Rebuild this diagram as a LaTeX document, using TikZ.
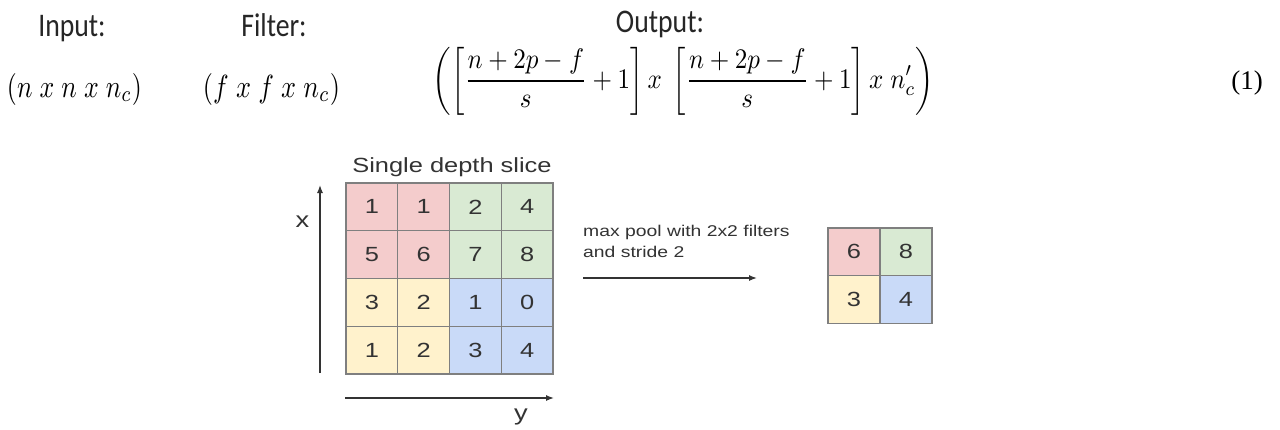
\documentclass[tikz,border=0pt]{standalone}
\usepackage{amsmath}
\usepackage{fontspec}
\usepackage{xcolor}
\usepackage{tikz}
\usetikzlibrary{arrows.meta}
\setmainfont{Liberation Serif}
\newfontfamily\eqfont[FakeStretch=0.84]{Carlito}
\newfontfamily\figfont[FakeStretch=1.24]{Liberation Sans}
\definecolor{poolred}{HTML}{F4CCCC}
\definecolor{poolgreen}{HTML}{D9EAD3}
\definecolor{poolyellow}{HTML}{FFF2CC}
\definecolor{poolblue}{HTML}{C9DAF8}
\definecolor{poolgrid}{HTML}{7F7F7F}
\definecolor{pooldark}{HTML}{333333}
\tikzset{
  lbl/.style={font=\eqfont\fontsize{33}{36}\selectfont,anchor=base,inner sep=0pt,text=black!85},
  eq/.style={inner sep=0pt},
  cell/.style={draw=poolgrid,line width=1.3pt,minimum width=51.75pt,minimum height=47.75pt,inner sep=0pt,text=pooldark,font=\figfont\fontsize{20.5}{24}\selectfont},
  rcell/.style={cell,fill=poolred},
  gcell/.style={cell,fill=poolgreen},
  ycell/.style={cell,fill=poolyellow},
  bcell/.style={cell,fill=poolblue},
  txt/.style={inner sep=0pt,text=pooldark,font=\figfont\fontsize{20.5}{24}\selectfont},
  ax/.style={-{Latex[length=8pt,width=6pt]},draw=pooldark,line width=1.3pt},
}

\begin{document}
\begin{tikzpicture}[x=1pt,y=-1pt]
  \useasboundingbox[fill=white] (0,0) rectangle (1280,429);
  % formula row
  \node[lbl] (inlbl) at (72,36) {Input:};
  \node[lbl] (filtlbl) at (274,36) {Filter:};
  \node[lbl] (outlbl) at (660,32) {Output:};
  \node[eq] (indim) at (74.5,89) {\resizebox*{135pt}{32pt}{$(n\;x\;n\;x\;n_c)$}};
  \node[eq] (filtdim) at (271.5,89) {\resizebox*{137pt}{32pt}{$(f\;x\;f\;x\;n_c)$}};
  \node[eq] (outdim) at (683.5,81) {\resizebox*{501pt}{68pt}{$\displaystyle\left(\left[\frac{n+2p-f}{s}+1\right]x\;\left[\frac{n+2p-f}{s}+1\right]x\;n_c'\right)$}};
  \node[inner sep=0pt,font=\fontsize{27}{30}\selectfont] (eqno) at (1247,83) {(1)};
  % input slice
  \node[txt,anchor=base] (slice) at (452,172) {Single depth slice};
  \node[rcell] (c11) at (371.9,206.9) {1};
  \node[rcell] (c12) at (423.6,206.9) {1};
  \node[gcell] (c13) at (475.4,206.9) {2};
  \node[gcell] (c14) at (527.1,206.9) {4};
  \node[rcell] (c21) at (371.9,254.6) {5};
  \node[rcell] (c22) at (423.6,254.6) {6};
  \node[gcell] (c23) at (475.4,254.6) {7};
  \node[gcell] (c24) at (527.1,254.6) {8};
  \node[ycell] (c31) at (371.9,302.4) {3};
  \node[ycell] (c32) at (423.6,302.4) {2};
  \node[bcell] (c33) at (475.4,302.4) {1};
  \node[bcell] (c34) at (527.1,302.4) {0};
  \node[ycell] (c41) at (371.9,350.1) {1};
  \node[ycell] (c42) at (423.6,350.1) {2};
  \node[bcell] (c43) at (475.4,350.1) {3};
  \node[bcell] (c44) at (527.1,350.1) {4};
  % axes
  \coordinate (xfoot) at (320,373);
  \coordinate (xtip) at (320,185);
  \coordinate (yfoot) at (345,398);
  \coordinate (ytip) at (554,398);
  \draw[ax] (xfoot) -- (xtip);
  \draw[ax] (yfoot) -- (ytip);
  \node[txt,anchor=base,font=\figfont\fontsize{22}{24}\selectfont] (xlbl) at (302.5,227) {x};
  \node[txt,anchor=base,font=\figfont\fontsize{22}{24}\selectfont] (ylbl) at (521,420) {y};
  % pooling step
  \node[txt,anchor=north west,align=left,font=\figfont\fontsize{15.6}{21}\selectfont] (pooltxt) at (583,224.5) {max pool with 2x2 filters\\and stride 2};
  \coordinate (poolfrom) at (583,278);
  \coordinate (poolto) at (757,278);
  \draw[ax] (poolfrom) -- (poolto);
  % pooled output
  \node[rcell] (p11) at (854,251.9) {6};
  \node[gcell] (p12) at (906,251.9) {8};
  \node[ycell] (p21) at (854,299.6) {3};
  \node[bcell] (p22) at (906,299.6) {4};
\end{tikzpicture}
\end{document}
